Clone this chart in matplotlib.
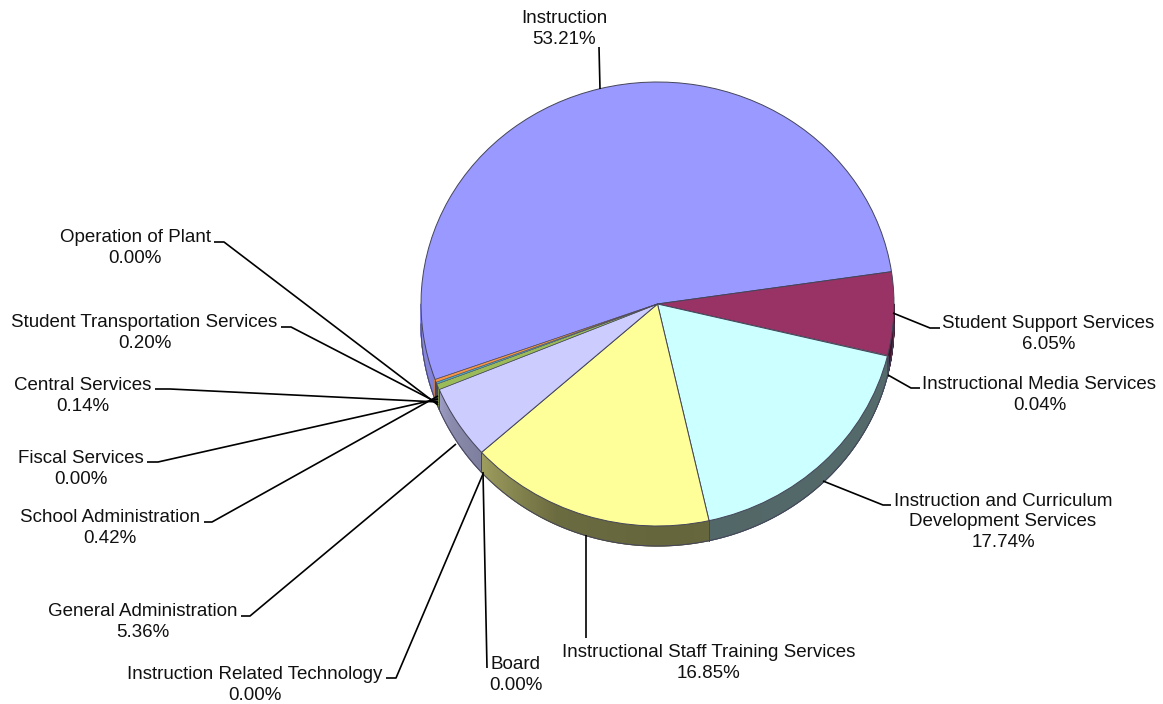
import numpy as np
import matplotlib
matplotlib.use("Agg")
import matplotlib.pyplot as plt
from matplotlib.collections import PolyCollection

plt.rcParams['font.family'] = ['Liberation Sans', 'DejaVu Sans']

# Gasto por funcion, en sentido horario
categorias = [
  "Instruction", "Student Support Services", "Instructional Media Services",
  "Instruction and Curriculum\nDevelopment Services", "Instructional Staff Training Services",
  "Board", "Instruction Related Technology", "General Administration",
  "School Administration", "Fiscal Services", "Central Services",
  "Student Transportation Services", "Operation of Plant"
]
porcentajes = [53.21, 6.05, 0.04, 17.74, 16.85, 0.00, 0.00, 5.36, 0.42, 0.00, 0.14, 0.20, 0.00]
colores = ["#9999FF", "#993366", "#FFFFCC", "#CCFFFF", "#FFFF99", "#660066", "#FF8080",
           "#CCCCFF", "#9BBB59", "#000080", "#4BACC6", "#F79646", "#FF00FF"]

# Posicion del texto (centro) y quiebres de cada linea guia, en pixeles
pos_texto = [
  (564, 29), (1048.5, 334), (1039.5, 395), (1003, 522), (708.5, 663), (516, 675), (254.5, 685),
  (143, 622), (110, 528), (81, 469), (83, 396), (144.5, 333), (135, 248)
]
guias = [
  [(599, 47), (600, 89)],
  [(893, 313), (930, 328), (940, 328)],
  [(888, 375), (911, 388), (920, 388)],
  [(823, 481), (883, 505), (891, 505)],
  [(586, 535), (586, 638)],
  [(483, 472), (487, 668)],
  [(483, 474), (396, 678), (386, 678)],
  [(456, 444), (250, 616), (241, 616)],
  [(438, 396), (212, 522), (204, 522)],
  [(438, 399), (158, 462), (147, 462)],
  [(438, 402), (170, 389), (155, 389)],
  [(438, 403), (291, 327), (281, 327)],
  [(438, 405), (224, 242), (214, 242)]
]

ancho, alto = 1163, 704
cx, cy = 657.5, 304
rx, ry = 236.5, 222
prof = 20
inicio = 199.9
borde = "#44445A"

fig = plt.figure(figsize=(ancho / 100, alto / 100), dpi=100)

# Capa en pixeles para la pared lateral
base = fig.add_axes([0, 0, 1, 1], zorder=1)
base.set_xlim(0, ancho)
base.set_ylim(alto, 0)
base.axis("off")


def sombra(ang):
  return np.interp(ang, [-180, -162, -150, -138, -115, -90, 0], [0.92, 0.85, 0.68, 0.62, 0.42, 0.40, 0.42])


# Pared: tramos pequeños de cada porcion en la mitad inferior
acum = inicio
for valor, color in zip(porcentajes, colores):
  fin = acum - valor * 3.6
  desde, hasta = acum, fin
  # se lleva el angulo al rango -180..180
  if desde > 180:
    desde -= 360
    hasta -= 360
  acum = fin
  a0, a1 = max(hasta, -180), min(desde, 0)
  if valor == 0 or a1 <= a0:
    continue
  angs = np.linspace(a0, a1, max(2, int((a1 - a0) * 6) + 1))
  rgb = np.array(matplotlib.colors.to_rgb(color))
  x = cx + rx * np.cos(np.radians(angs))
  y = cy - ry * np.sin(np.radians(angs))
  quads = [[(x[i], y[i]), (x[i + 1], y[i + 1]), (x[i + 1], y[i + 1] + prof), (x[i], y[i] + prof)]
           for i in range(len(angs) - 1)]
  tonos = [tuple(rgb * sombra((angs[i] + angs[i + 1]) / 2)) for i in range(len(angs) - 1)]
  base.add_collection(PolyCollection(quads, facecolors=tonos, edgecolors=tonos, linewidths=0.8))
  base.plot(x, y + prof, color=borde, lw=0.7)
  if hasta >= -180:
    base.plot([x[0], x[0]], [y[0], y[0] + prof], color=borde, lw=0.7)

# Cara superior
ax = fig.add_axes([(cx - rx) / ancho, 1 - (cy + ry) / alto, 2 * rx / ancho, 2 * ry / alto], zorder=2)
porciones, _ = ax.pie(porcentajes, colors=colores, startangle=inicio, counterclock=False, radius=1,
                      wedgeprops={"edgecolor": borde, "linewidth": 0.7})
# Las porciones muy finas llevan borde minimo para que se vea su color
for porcion, valor in zip(porciones, porcentajes):
  if valor == 0:
    porcion.set_linewidth(0)
  elif valor < 1:
    porcion.set_linewidth(0.35)
ax.set_aspect("auto")
ax.set_xlim(-1, 1)
ax.set_ylim(-1, 1)
ax.patch.set_visible(False)

# Capa superior con lineas guia y etiquetas
capa = fig.add_axes([0, 0, 1, 1], zorder=3)
capa.set_xlim(0, ancho)
capa.set_ylim(alto, 0)
capa.axis("off")

for nombre, valor, (tx, ty), guia in zip(categorias, porcentajes, pos_texto, guias):
  xs, ys = zip(*guia)
  capa.plot(xs, ys, color="black", lw=1.2, solid_capstyle="butt")
  capa.text(tx, ty, "%s\n%.2f%%" % (nombre, valor), ha="center", va="center",
            fontsize=13.47, linespacing=1.26, color="#111111")

fig.savefig("out.png", dpi=100)
